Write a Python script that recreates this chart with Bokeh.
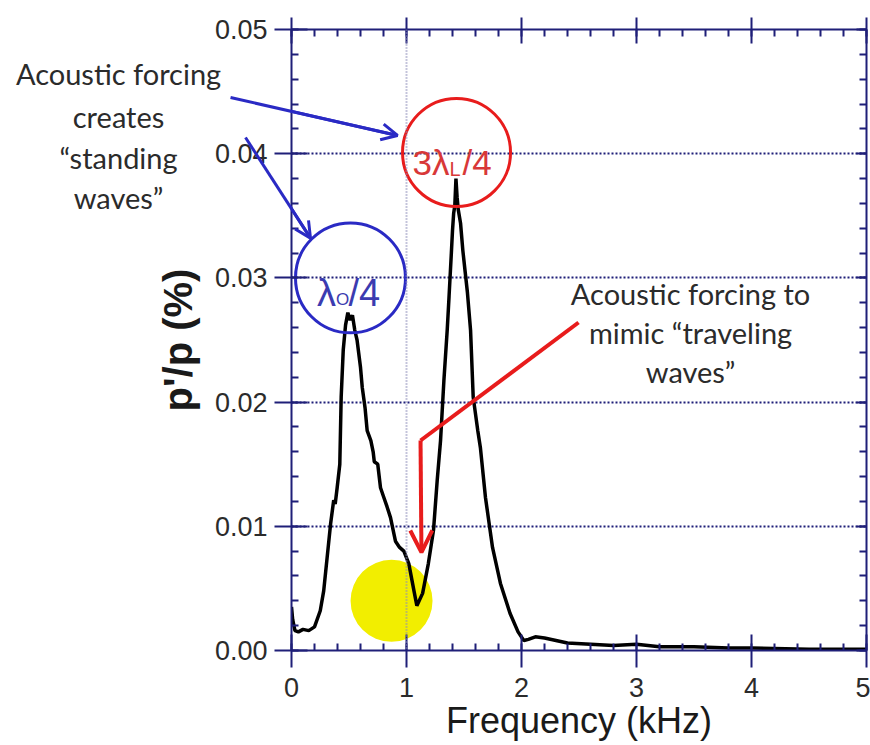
from bokeh.plotting import figure
from bokeh.models import (Range1d, LinearAxis, SingleIntervalTicker, NumeralTickFormatter,
                          CustomJSTickFormatter, Label, Arrow, OpenHead, Span, ColumnDataSource)
from bokeh.core.properties import value
from bokeh.embed import file_html
from bokeh.resources import INLINE

# ---- data ----
freq = [0.0, 0.01, 0.03, 0.06, 0.10, 0.15, 0.20, 0.25, 0.28, 0.31, 0.34, 0.367, 0.38, 0.397,
        0.42, 0.432, 0.45, 0.47, 0.49, 0.51, 0.53, 0.55, 0.57, 0.60, 0.615, 0.64, 0.658, 0.69,
        0.71, 0.72, 0.75, 0.774, 0.80, 0.83, 0.861, 0.904, 0.94, 0.977, 1.02, 1.065, 1.09, 1.14,
        1.19, 1.235, 1.267, 1.296, 1.325, 1.354, 1.37, 1.39, 1.40, 1.41, 1.42, 1.43, 1.44, 1.45,
        1.47, 1.49, 1.51, 1.53, 1.557, 1.58, 1.62, 1.643, 1.687, 1.748, 1.817, 1.90, 1.97, 2.02,
        2.06, 2.12, 2.20, 2.30, 2.40, 2.60, 2.80, 3.00, 3.20, 3.50, 3.80, 4.00, 4.50, 5.00]
amp = [0.0035, 0.0025, 0.0016, 0.0015, 0.0017, 0.0016, 0.0019, 0.0032, 0.0048, 0.0075, 0.0102,
       0.0121, 0.0118, 0.0131, 0.0150, 0.0204, 0.0242, 0.0262, 0.0272, 0.0266, 0.0270, 0.0258,
       0.0250, 0.0228, 0.0212, 0.0195, 0.0177, 0.0169, 0.0160, 0.0152, 0.0150, 0.0131, 0.0124,
       0.0116, 0.0107, 0.0088, 0.0083, 0.0080, 0.0070, 0.0048, 0.0036, 0.0046, 0.0070, 0.0097,
       0.0137, 0.0169, 0.0217, 0.0258, 0.0285, 0.0320, 0.0338, 0.0352, 0.0358, 0.0380, 0.0365,
       0.0355, 0.0344, 0.0322, 0.0305, 0.0288, 0.0258, 0.0204, 0.0177, 0.0163, 0.0123, 0.0083,
       0.0054, 0.0030, 0.0015, 0.0008, 0.0009, 0.0011, 0.0010, 0.0008, 0.0006, 0.0005, 0.0004,
       0.0005, 0.0003, 0.0003, 0.0002, 0.0002, 0.0001, 0.0001]

x_major = 1.0
y_major = 0.01
x_label = "Frequency (kHz)"
y_label = "p'/p (%)"

left_note = ["Acoustic forcing", "creates", "\u201cstanding", "waves\u201d"]
right_note = ["Acoustic forcing to", "mimic \u201ctraveling", "waves\u201d"]

# annotation anchor points (data coordinates)
blue_circle = (0.513, 0.0300)
red_circle = (1.435, 0.0401)
yellow_spot = (0.87, 0.0040)

NAVY = "#1f1f78"
BLUE = "#2a2ac4"
RED = "#e81c1c"
TXT = "#2b2b2b"

p = figure(width=870, height=745, output_backend="svg", toolbar_location=None,
           x_range=Range1d(0, 5), y_range=Range1d(0, 0.05),
           x_axis_label=x_label, y_axis_label=y_label,
           min_border_left=291, min_border_right=4, min_border_top=29, min_border_bottom=95,
           background_fill_color="white", border_fill_color="white")
p.outline_line_color = None

xt = SingleIntervalTicker(interval=x_major, num_minor_ticks=5)
yt = SingleIntervalTicker(interval=y_major, num_minor_ticks=5)

ax = p.xaxis[0]
ax.ticker = xt
ax.formatter = NumeralTickFormatter(format="0")
ay = p.yaxis[0]
ay.ticker = yt
ay.formatter = NumeralTickFormatter(format="0.00")

for a in (ax, ay):
    a.axis_line_color = NAVY
    a.axis_line_width = 2
    a.major_tick_line_color = NAVY
    a.major_tick_line_width = 2
    a.minor_tick_line_color = NAVY
    a.minor_tick_line_width = 2
    a.major_tick_in = 16
    a.major_tick_out = 17
    a.minor_tick_in = 7
    a.minor_tick_out = 0
    a.major_label_text_font = "Liberation Sans"
    a.major_label_text_font_size = "27px"
    a.major_label_text_color = TXT
    a.axis_label_text_font = "Liberation Sans"
    a.axis_label_text_color = "#1a1a1a"

ax.major_label_standoff = 10
ax.axis_label_text_font_size = "36px"
ax.axis_label_text_font_style = "normal"
ax.axis_label_standoff = 0
ay.major_label_standoff = 7
ay.axis_label_text_font_size = "40px"
ay.axis_label_text_font_style = "bold"
ay.axis_label_standoff = 12

empty = CustomJSTickFormatter(code="return ''")
top = LinearAxis(ticker=xt, formatter=empty, axis_line_color=NAVY, axis_line_width=2,
                 major_tick_line_color=NAVY, major_tick_line_width=2,
                 minor_tick_line_color=NAVY, minor_tick_line_width=2,
                 major_tick_in=14, major_tick_out=12, minor_tick_in=7, minor_tick_out=0,
                 major_label_standoff=0, major_label_text_font_size="1px")
right = LinearAxis(ticker=yt, formatter=empty, axis_line_color=NAVY, axis_line_width=2,
                   major_tick_line_color=NAVY, major_tick_line_width=2,
                   minor_tick_line_color=NAVY, minor_tick_line_width=2,
                   major_tick_in=10, major_tick_out=0, minor_tick_in=7, minor_tick_out=0,
                   major_label_standoff=0, major_label_text_font_size="1px")
p.add_layout(top, "above")
p.add_layout(right, "right")

p.xgrid.visible = False
p.ygrid.ticker = yt
p.ygrid.grid_line_color = NAVY
p.ygrid.grid_line_dash = "2 2"
p.ygrid.grid_line_width = 2

p.add_layout(Span(location=1.0, dimension="height", line_color="#8a8ab8",
                  line_dash="1 2", line_width=2))

# yellow highlight under the curve
p.scatter(x=[yellow_spot[0]], y=[yellow_spot[1]], size=82, marker="circle",
          fill_color="#f2ee00", line_color=None)

src = ColumnDataSource(dict(freq=freq, amp=amp))
p.line("freq", "amp", source=src, line_color="black", line_width=3.5)

# mode circles
p.scatter(x=[blue_circle[0]], y=[blue_circle[1]], size=110, marker="circle",
          fill_color=None, line_color=BLUE, line_width=3)
p.scatter(x=[red_circle[0]], y=[red_circle[1]], size=108, marker="circle",
          fill_color=None, line_color=RED, line_width=3)

def lab(x, y, t, size, color, align="left", baseline="alphabetic", font="Liberation Sans"):
    p.add_layout(Label(x=x, y=y, text=t, text_font=font, text_font_size=size,
                       text_color=color, text_align=align, text_baseline=baseline))

lab(0.387, 0.02882, "\u03bb", "38px", "#3b3bb0", align="right")
lab(0.387, 0.02826, "O", "17px", "#3b3bb0")
lab(0.496, 0.02882, "/4", "38px", "#3b3bb0")
lab(1.374, 0.03929, "3\u03bb", "35px", "#d83838", align="right")
lab(1.374, 0.03873, "L", "20px", "#d83838")
lab(1.487, 0.03929, "/4", "35px", "#d83838")

# notes as glyph text (overlay level so the left note may sit outside the frame)
left_y = [0.04646, 0.0430, 0.0397, 0.03647]
p.text(x=[-1.504] * len(left_note), y=left_y, text=left_note, text_font=value("Lato"),
       text_font_size="29px", text_color=TXT, text_align="center",
       text_baseline="middle", level="overlay")
right_y = [0.02874, 0.0256, 0.02246]
p.text(x=[3.47] * len(right_note), y=right_y, text=right_note, text_font=value("Lato"),
       text_font_size="29px", text_color=TXT, text_align="center",
       text_baseline="middle", level="overlay")

# arrow shafts (overlay so they reach outside the frame) + heads
p.segment(x0=[-0.53, -0.40], y0=[0.04452, 0.0413], x1=[0.922, 0.165], y1=[0.04147, 0.0332],
          line_color=BLUE, line_width=3, level="overlay")
p.add_layout(Arrow(x_start=-0.53, y_start=0.04452, x_end=0.922, y_end=0.04147,
                   line_color=BLUE, line_width=3,
                   end=OpenHead(size=16, line_color=BLUE, line_width=3)))
p.add_layout(Arrow(x_start=-0.40, y_start=0.0413, x_end=0.165, y_end=0.0332,
                   line_color=BLUE, line_width=3,
                   end=OpenHead(size=16, line_color=BLUE, line_width=3)))
p.add_layout(Arrow(x_start=2.496, y_start=0.02641, x_end=1.122, y_end=0.01691,
                   line_color=RED, line_width=4, end=None))
p.add_layout(Arrow(x_start=1.122, y_start=0.01691, x_end=1.13, y_end=0.0079,
                   line_color=RED, line_width=4,
                   end=OpenHead(size=22, line_color=RED, line_width=4)))

open("out.html", "w").write(file_html(p, INLINE))
